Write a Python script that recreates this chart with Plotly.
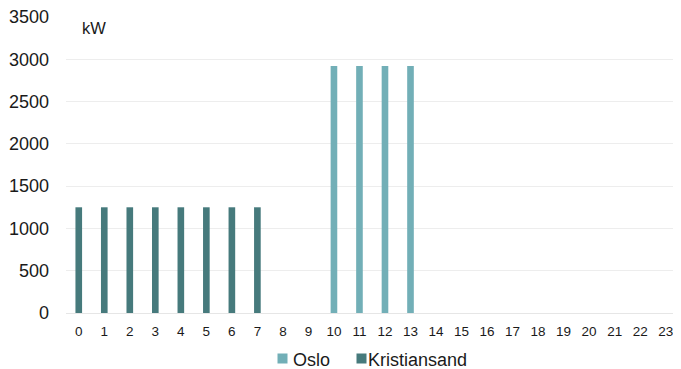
import plotly.graph_objects as go

hours = [str(h) for h in range(24)]
oslo = [None]*10 + [2920, 2920, 2920, 2920] + [None]*10
kristiansand = [1250]*8 + [None]*16
y_ticks = [0, 500, 1000, 1500, 2000, 2500, 3000, 3500]
series_names = ["Oslo", "Kristiansand"]
series_colors = ["#72AFB7", "#467A7C"]

fig = go.Figure()
fig.add_trace(go.Bar(x=hours, y=oslo, name=series_names[0],
                     marker=dict(color=series_colors[0], line=dict(width=0)), width=0.26))
fig.add_trace(go.Bar(x=hours, y=kristiansand, name=series_names[1],
                     marker=dict(color=series_colors[1], line=dict(width=0)), width=0.26))

txt_font = dict(family="Liberation Sans, Arial", size=18, color="#1a1a1a")
legend_ann = []
# legend (drawn as annotations to match the compact spacing of the original)
sq_x = [0.352, 0.4805]
tx_x = [0.3675, 0.4894]
for name, col, sx, tx in zip(series_names, series_colors, sq_x, tx_x):
    legend_ann.append(dict(text=" ", xref="paper", yref="paper", x=sx, y=-0.1537,
                           xanchor="center", yanchor="middle", showarrow=False,
                           width=9, height=9, bgcolor=col, borderpad=0,
                           font=dict(size=6)))
    legend_ann.append(dict(text=name, xref="paper", yref="paper", x=tx, y=-0.1575,
                           xanchor="left", yanchor="middle", showarrow=False,
                           font=txt_font, borderpad=0))

fig.update_layout(
    width=673, height=361,
    margin=dict(l=58, r=0, t=9, b=56, autoexpand=False),
    barmode="overlay",
    plot_bgcolor="white", paper_bgcolor="white",
    font=dict(family="Liberation Sans, Arial", size=13, color="#1a1a1a"),
    showlegend=False,
    annotations=[dict(text="kW", xref="paper", yref="paper", x=0.0228, y=0.9645,
                      xanchor="left", yanchor="middle", showarrow=False,
                      font=dict(size=16.5, color="#1a1a1a"))] + legend_ann,
)
fig.update_xaxes(type="category", range=[-0.5, 23.6], tickfont=dict(size=13.5), showline=False,
                 showgrid=False, ticks="", ticklabelstandoff=8, ticklabeloverflow="allow")
fig.update_yaxes(range=[0, 3500], tickvals=y_ticks, showgrid=True, gridcolor="#EDEDED",
                 gridwidth=1, zeroline=True, zerolinecolor="#E6E6E6", zerolinewidth=1,
                 tickfont=dict(size=18), ticks="", ticklabelstandoff=16, showline=False,
                 ticklabeloverflow="allow")

fig.write_html("out.html")
